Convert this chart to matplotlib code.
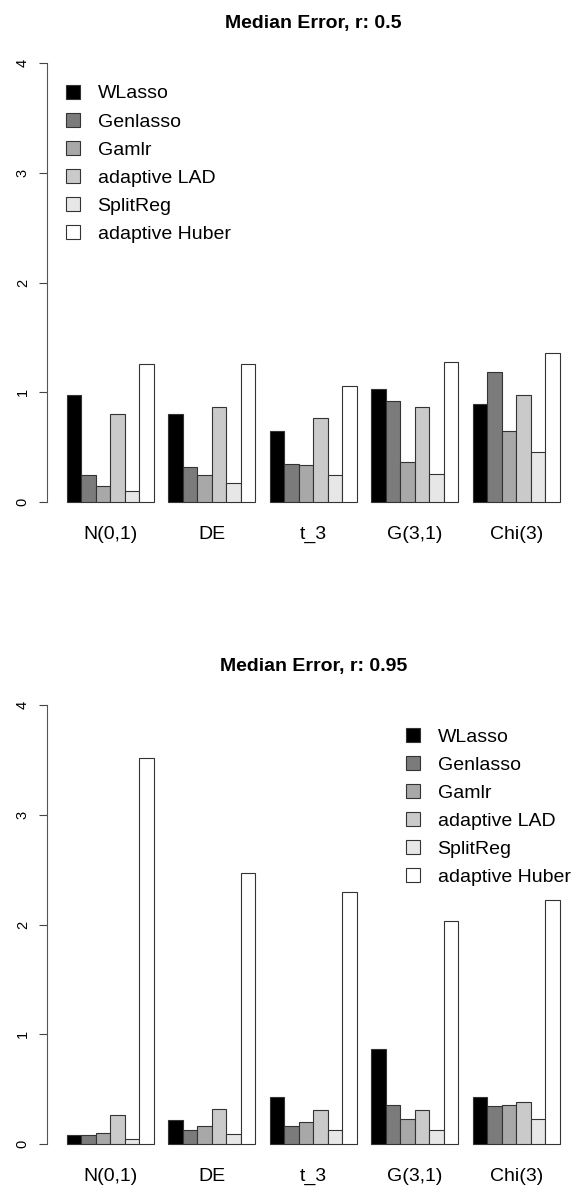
import numpy as np
import matplotlib
matplotlib.use("Agg")
import matplotlib.pyplot as plt
from matplotlib.patches import Patch

plt.rcParams['font.family'] = ['Liberation Sans', 'DejaVu Sans']

dists = ['N(0,1)', 'DE', 't_3', 'G(3,1)', 'Chi(3)']
methods = ['WLasso', 'Genlasso', 'Gamlr', 'adaptive LAD', 'SplitReg', 'adaptive Huber']
colors = ['#000000', '#7B7B7B', '#A8A8A8', '#CACACA', '#E7E7E7', '#FFFFFF']

# r = 0.5, one list per method, values per distribution
r05_wlasso = [0.98, 0.80, 0.65, 1.03, 0.89]
r05_genlasso = [0.25, 0.32, 0.35, 0.92, 1.19]
r05_gamlr = [0.15, 0.25, 0.34, 0.37, 0.65]
r05_lad = [0.80, 0.87, 0.77, 0.87, 0.98]
r05_splitreg = [0.10, 0.18, 0.25, 0.26, 0.46]
r05_huber = [1.26, 1.26, 1.06, 1.28, 1.36]

# r = 0.95
r095_wlasso = [0.08, 0.22, 0.43, 0.87, 0.43]
r095_genlasso = [0.08, 0.13, 0.16, 0.36, 0.35]
r095_gamlr = [0.10, 0.16, 0.20, 0.23, 0.36]
r095_lad = [0.26, 0.32, 0.31, 0.31, 0.38]
r095_splitreg = [0.05, 0.09, 0.13, 0.13, 0.23]
r095_huber = [3.52, 2.47, 2.30, 2.03, 2.22]

panels = [
    ('Median Error, r: 0.5',
     [r05_wlasso, r05_genlasso, r05_gamlr, r05_lad, r05_splitreg, r05_huber]),
    ('Median Error, r: 0.95',
     [r095_wlasso, r095_genlasso, r095_gamlr, r095_lad, r095_splitreg, r095_huber]),
]

W, H = 571, 1189
fig = plt.figure(figsize=(W / 100, H / 100), dpi=100)

# axes boxes in pixels (left, top, right, bottom)
boxes = [(47.0, 45.1, 579.7, 519.9), (47.0, 687.4, 579.7, 1161.6)]
leg_anchor = [(0.0357, 0.9165), (0.674, 0.914)]

ng = len(dists)
ns = len(methods)
for p, (title, series) in enumerate(panels):
    l, t, r, b = boxes[p]
    ax = fig.add_axes([l / W, 1 - b / H, (r - l) / W, (b - t) / H])
    X = 1 + 7 * np.arange(ng)
    for s in range(ns):
        ax.bar(X + s, series[s], width=1, align='edge', color=colors[s],
               edgecolor='#333333', linewidth=0.8)
    ax.set_xlim(-0.36, 36.36)
    ax.set_ylim(-0.16, 4.16)
    for side in ['top', 'right', 'bottom']:
        ax.spines[side].set_visible(False)
    ax.spines['left'].set_bounds(0, 4)
    ax.spines['left'].set_color('#555555')
    ax.spines['left'].set_linewidth(0.8)
    ax.set_yticks([0, 1, 2, 3, 4])
    ax.set_yticklabels(['0', '1', '2', '3', '4'], rotation=90, va='center')
    ax.tick_params(axis='y', length=6.1, width=0.8, color='#444444',
                   labelsize=10.5, pad=6.3)
    ax.set_xticks(X + ns / 2)
    ax.set_xticklabels(dists)
    ax.tick_params(axis='x', length=0, labelsize=14, pad=4.5)
    ax.set_title(title, fontsize=14, fontweight='bold', pad=12)
    handles = [Patch(facecolor=colors[s], edgecolor='#333333', linewidth=0.8)
               for s in range(ns)]
    ax.legend(handles, methods, loc='upper left', bbox_to_anchor=leg_anchor[p],
              frameon=False, fontsize=14, handlelength=0.72, handleheight=0.72,
              handletextpad=0.9, labelspacing=0.53, borderpad=0, borderaxespad=0)

plt.savefig('out.png', dpi=100)
